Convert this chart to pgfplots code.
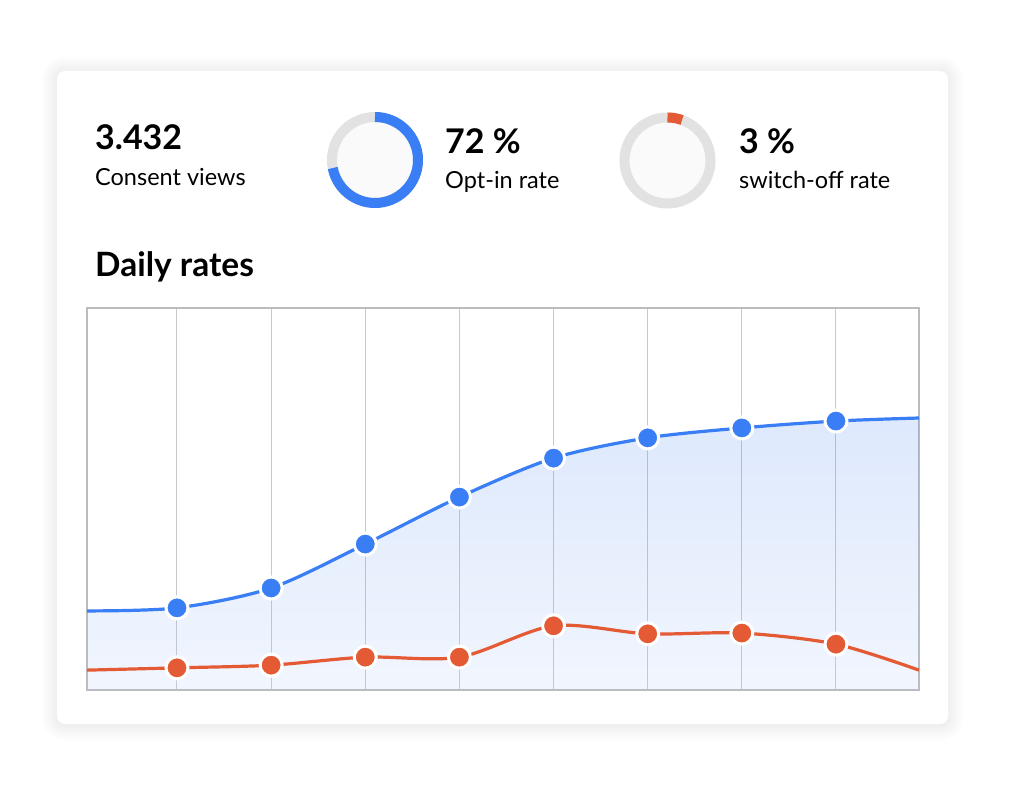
\documentclass[border=0pt]{standalone}
\usepackage{pgfplots}
\pgfplotsset{compat=1.18}
\usepackage{pgfplotstable}
\usepackage{fontspec}
\setmainfont{Lato}
\definecolor{optblue}{HTML}{3A7EF6}
\definecolor{offred}{HTML}{E45A35}
\definecolor{ringgrey}{HTML}{E2E2E2}
\definecolor{gridgrey}{HTML}{C8C9CE}
\definecolor{framegrey}{HTML}{BCBCBC}

% daily rates, share of the plot height (0-100); first and last rows are the curve at the frame edges
\pgfplotstableread{
x      optin  switchoff
0.044  20.7   5.2
1      21.5   5.8
2      26.7   6.5
3      38.2   8.6
4      50.5   8.6
5      60.7   16.8
6      66.0   14.7
7      68.6   14.9
8      70.4   12.0
8.882  71.2   5.2
}\dailyrates

\newcommand{\bigfont}{\fontsize{34}{38}\selectfont\bfseries}
\newcommand{\smallfont}{\fontsize{23.5}{27}\selectfont}

\begin{document}
\begin{tikzpicture}
\useasboundingbox (0pt,0pt) rectangle (1011pt,805pt);
\fill[white] (0pt,0pt) rectangle (1011pt,805pt);

% card with soft shadow
\foreach \s in {1,2,...,16}{
  \fill[black,opacity=0.0045,rounded corners=8pt+\s pt] (57pt-\s pt,80pt-\s pt) rectangle (948pt+\s pt,733pt+\s pt);
}
\fill[white,rounded corners=8pt] (57pt,81pt) rectangle (948pt,734pt);

% headline figures
\node[anchor=base west,inner sep=0] at (95pt,655pt) {\bigfont 3.432};
\node[anchor=base west,inner sep=0] at (95pt,619pt) {\smallfont Consent views};
\node[anchor=base west,inner sep=0] at (445pt,651pt) {\bigfont 72 \%};
\node[anchor=base west,inner sep=0] at (445pt,616pt) {\smallfont Opt-in rate};
\node[anchor=base west,inner sep=0] at (739pt,651pt) {\bigfont 3 \%};
\node[anchor=base west,inner sep=0] at (739pt,616pt) {\smallfont switch-off rate};
\node[anchor=base west,inner sep=0] at (95pt,528pt) {\fontsize{33.5}{38}\selectfont\bfseries Daily rates};

% rings
\newcommand{\ring}[4]{%
  \fill[black!2] (#1pt,#2pt) circle (38pt);
  \draw[ringgrey,line width=10pt] (#1pt,#2pt) circle (43pt);
  \draw[#4,line width=10pt] (#1pt,#2pt+43pt) arc[start angle=90,end angle={90-#3*3.6},radius=43pt];
}
\ring{375}{645}{72}{optblue}
\ring{667.5}{644.5}{5.5}{offred}

\begin{axis}[
  at={(87pt,115pt)}, anchor=south west,
  width=832pt, height=382pt, scale only axis,
  xmin=0.044, xmax=8.882, ymin=0, ymax=100,
  xtick={1,...,8}, ytick=\empty,
  xticklabels={}, major tick length=0pt,
  xmajorgrids, grid style={gridgrey,line width=1pt},
  axis line style={framegrey,line width=1.2pt},
]
\addplot[draw=none,fill opacity=0.17,top color=optblue,bottom color=optblue!40!white]
  table[x=x,y=optin]{\dailyrates} \closedcycle;
\addplot[optblue,line width=3.2pt,smooth,
  mark=*,mark indices={2,...,9},
  mark options={draw=white,fill=optblue,line width=3pt,mark size=11pt}]
  table[x=x,y=optin]{\dailyrates};
\addplot[offred,line width=3.2pt,smooth,
  mark=*,mark indices={2,...,9},
  mark options={draw=white,fill=offred,line width=3pt,mark size=11pt}]
  table[x=x,y=switchoff]{\dailyrates};
\end{axis}
\end{tikzpicture}
\end{document}
